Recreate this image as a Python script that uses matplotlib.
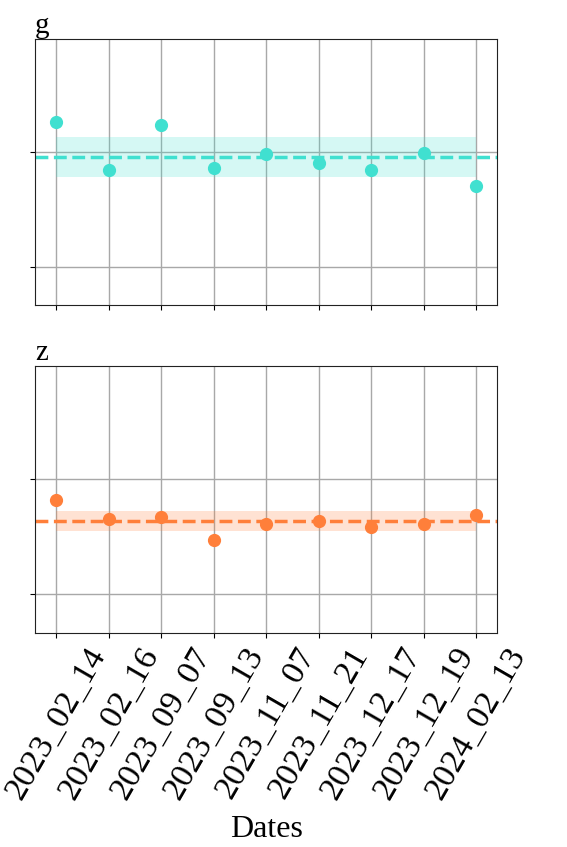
import numpy as np
import matplotlib
matplotlib.use("Agg")
import matplotlib.pyplot as plt

plt.rcParams["font.family"] = ["Liberation Serif", "DejaVu Serif"]

dates = ["2023_02_14", "2023_02_16", "2023_09_07", "2023_09_13", "2023_11_07",
         "2023_11_21", "2023_12_17", "2023_12_19", "2024_02_13"]
g_vals = [1.26, 0.84, 1.235, 0.856, 0.977, 0.899, 0.838, 0.989, 0.702]
z_vals = [0.82, 0.658, 0.667, 0.47, 0.611, 0.635, 0.585, 0.606, 0.687]

bands = ["g", "z"]
series = [g_vals, z_vals]
colors = ["#40E0D0", "#FF7F3A"]

fig, axes = plt.subplots(2, 1, figsize=(5.67, 8.47), dpi=100, sharex=True)
fig.subplots_adjust(left=0.062, right=0.877, top=0.954, bottom=0.253, hspace=0.23)

x = np.arange(len(dates))
for ax, name, vals, color in zip(axes, bands, series, colors):
    vals = np.array(vals)
    mean, std = vals.mean(), vals.std()
    # shaded band = mean +/- std, dashed line = mean
    ax.fill_between(x, mean - std, mean + std, color=color, alpha=0.22, lw=0, zorder=1)
    ax.axhline(mean, color=color, ls="--", lw=2.5, zorder=2)
    ax.plot(x, vals, "o", color=color, ms=8.5, zorder=3)
    ax.set_ylim(-0.335, 1.98)
    ax.set_yticks([0, 1])
    ax.set_yticklabels([])
    ax.grid(True, color="#a8a8a8", lw=1, zorder=0)
    ax.set_axisbelow(True)
    ax.set_title(name, loc="left", fontsize=21, pad=4)
    for s in ax.spines.values():
        s.set_color("#222222")

axes[1].set_xticks(x)
axes[1].set_xticklabels(dates, rotation=60, fontsize=24.5)
axes[1].set_xlabel("Dates", fontsize=23, labelpad=7)

fig.savefig("out.png", dpi=100)
